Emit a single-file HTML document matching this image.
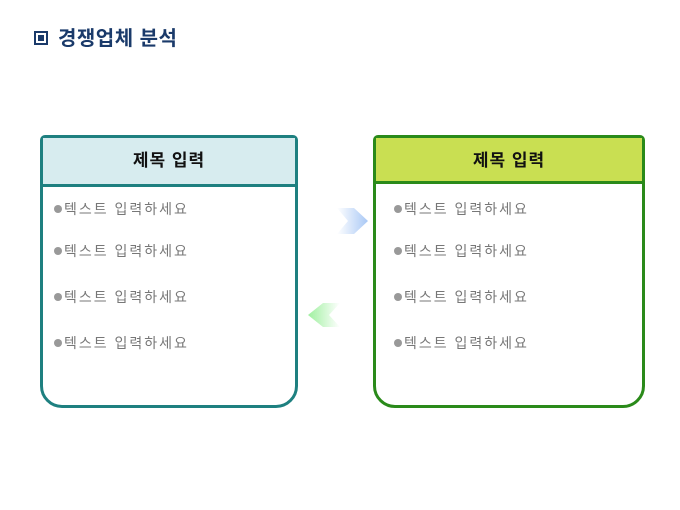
<!DOCTYPE html><html><head><meta charset="utf-8"><style>
body{margin:0;width:680px;height:510px;background:#fff;position:relative;font-family:"Liberation Sans","Noto Sans CJK KR",sans-serif;overflow:hidden}
.t{position:absolute;left:34px;top:22px;font-size:20px;font-weight:bold;color:#1a3a6a;letter-spacing:0.5px}
.t i{display:inline-block;width:10px;height:10px;border:2px solid #1a3a6a;position:relative;top:0px;margin-right:10px;box-sizing:content-box}
.t i:after{content:"";position:absolute;left:2px;top:2px;width:6px;height:6px;background:#1a3a6a}
.box{position:absolute;top:135px;height:273px;box-sizing:border-box;border:3px solid;border-radius:5px 5px 22px 22px;background:#fff}
.hd{position:absolute;left:0;right:0;top:0;border-bottom:3px solid;text-align:center;font-size:17px;font-weight:bold;color:#111;letter-spacing:1px}
.it{position:absolute;font-size:14px;color:#777;letter-spacing:2px}
.it b{display:inline-block;width:8px;height:8px;border-radius:50%;background:#999;margin-right:2px;vertical-align:1px}
</style></head><body>
<div class="t"><i></i>경쟁업체 분석</div>
<div class="box" style="left:40px;width:258px;border-color:#1e8080">
<div class="hd" style="height:46px;line-height:46px;background:#d7ecef;border-color:#1e8080">제목 입력</div></div>
<div class="box" style="left:373px;width:272px;border-color:#2a8a1a">
<div class="hd" style="height:43px;line-height:45px;background:#c9df52;border-color:#2a8a1a">제목 입력</div></div>
<div class="it" style="left:54px;top:199px"><b></b>텍스트 입력하세요</div>
<div class="it" style="left:54px;top:241px"><b></b>텍스트 입력하세요</div>
<div class="it" style="left:54px;top:287px"><b></b>텍스트 입력하세요</div>
<div class="it" style="left:54px;top:333px"><b></b>텍스트 입력하세요</div>
<div class="it" style="left:394px;top:199px"><b></b>텍스트 입력하세요</div>
<div class="it" style="left:394px;top:241px"><b></b>텍스트 입력하세요</div>
<div class="it" style="left:394px;top:287px"><b></b>텍스트 입력하세요</div>
<div class="it" style="left:394px;top:333px"><b></b>텍스트 입력하세요</div>
<svg width="680" height="510" style="position:absolute;left:0;top:0">
<defs><linearGradient id="b" x1="0" x2="1"><stop offset="0" stop-color="#fff"/><stop offset="1" stop-color="#a9c8f5"/></linearGradient>
<linearGradient id="g" x1="1" x2="0"><stop offset="0" stop-color="#fff"/><stop offset="1" stop-color="#9ff09f"/></linearGradient></defs>
<polygon points="337,208 354,208 368,221 354,234 337,234 348,221" fill="url(#b)"/>
<polygon points="340,303 323,303 308,315 323,327 340,327 329,315" fill="url(#g)"/>
</svg>
</body></html>
